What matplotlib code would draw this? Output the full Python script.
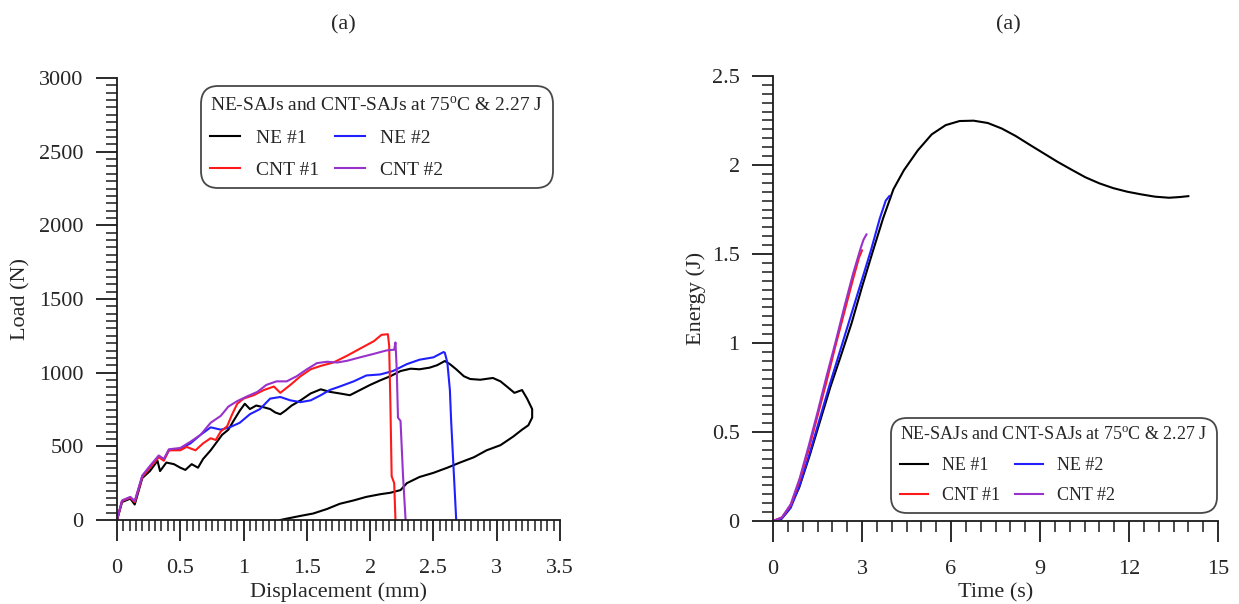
import matplotlib
matplotlib.use("Agg")
import matplotlib.pyplot as plt
from matplotlib.ticker import MultipleLocator

plt.rcParams['font.family'] = ['Liberation Serif', 'DejaVu Serif']
plt.rcParams['mathtext.fontset'] = 'custom'
plt.rcParams['mathtext.rm'] = 'Liberation Serif'

# load-displacement curves (mm, N)
ne1_disp = [0, 0.04, 0.105, 0.14, 0.2, 0.26, 0.32, 0.34, 0.39, 0.45, 0.5, 0.54, 0.59, 0.64, 0.68,
            0.74, 0.79, 0.83, 0.88, 0.92, 0.97, 1.01, 1.05, 1.1, 1.16, 1.21, 1.25, 1.29, 1.33, 1.38,
            1.45, 1.53, 1.61, 1.68, 1.76, 1.84, 1.92, 2.0, 2.08, 2.16, 2.24, 2.32, 2.39, 2.47, 2.53,
            2.59, 2.63, 2.68, 2.74, 2.79, 2.87, 2.97, 3.03, 3.08, 3.14, 3.2, 3.24, 3.28, 3.28, 3.25,
            3.2, 3.13, 3.03, 2.92, 2.82, 2.71, 2.61, 2.5, 2.39, 2.29, 2.24, 2.16, 2.08, 1.97, 1.87,
            1.76, 1.66, 1.55, 1.45, 1.34, 1.29]
ne1_load = [0, 122, 145, 105, 285, 332, 402, 332, 390, 379, 355, 340, 379, 355, 414,
            473, 531, 578, 613, 672, 742, 789, 753, 777, 765, 753, 730, 718, 742, 777,
            812, 859, 887, 870, 859, 847, 882, 917, 948, 976, 1011, 1027, 1023, 1034, 1051,
            1079, 1058, 1023, 976, 957, 952, 964, 941, 906, 863, 882, 824, 753, 695, 643,
            613, 566, 508, 473, 426, 390, 355, 320, 292, 250, 203, 185, 175, 157, 133,
            110, 75, 44, 28, 9, 0]

ne2_disp = [0, 0.04, 0.105, 0.14, 0.2, 0.26, 0.33, 0.37, 0.41, 0.5, 0.58, 0.66, 0.74, 0.82, 0.89,
            0.97, 1.05, 1.13, 1.21, 1.29, 1.37, 1.45, 1.53, 1.61, 1.68, 1.76, 1.87, 1.97, 2.08,
            2.18, 2.29, 2.39, 2.5, 2.58, 2.59, 2.61, 2.63, 2.64, 2.68]
ne2_load = [0, 129, 152, 122, 297, 355, 433, 410, 473, 484, 520, 578, 629, 613, 629,
            660, 718, 753, 824, 835, 812, 800, 812, 847, 882, 906, 941, 981, 988,
            1011, 1058, 1088, 1104, 1140, 1135, 1069, 882, 672, 0]

cnt1_disp = [0, 0.04, 0.105, 0.14, 0.2, 0.26, 0.33, 0.37, 0.41, 0.5, 0.55, 0.62, 0.68, 0.74, 0.78,
             0.82, 0.87, 0.91, 0.95, 1.0, 1.08, 1.16, 1.24, 1.29, 1.37, 1.45, 1.53, 1.61, 1.71,
             1.82, 1.92, 2.03, 2.09, 2.14, 2.15, 2.16, 2.17, 2.19, 2.2]
cnt1_load = [0, 129, 152, 122, 292, 355, 426, 402, 473, 473, 496, 473, 520, 555, 543,
             601, 636, 718, 789, 824, 847, 882, 906, 863, 917, 976, 1023, 1046, 1069,
             1116, 1163, 1214, 1257, 1261, 1186, 789, 297, 250, 0]

cnt2_disp = [0, 0.04, 0.105, 0.14, 0.2, 0.26, 0.33, 0.37, 0.41, 0.5, 0.58, 0.66, 0.74, 0.82, 0.88,
             0.95, 1.03, 1.11, 1.18, 1.26, 1.34, 1.42, 1.5, 1.58, 1.66, 1.74, 1.82, 1.92, 2.03,
             2.13, 2.19, 2.2, 2.21, 2.22, 2.24, 2.26, 2.28]
cnt2_load = [0, 133, 157, 129, 302, 367, 438, 414, 480, 489, 531, 578, 660, 707, 770,
             807, 840, 870, 917, 941, 941, 976, 1023, 1065, 1074, 1069, 1081, 1104, 1128,
             1151, 1156, 1205, 1023, 695, 672, 297, 0]

# energy-time curves (s, J)
ne1_time = [0, 0.29, 0.53, 0.88, 1.24, 1.59, 1.94, 2.29, 2.65, 3.0, 3.35, 3.71, 4.06, 4.41, 4.88,
            5.35, 5.82, 6.29, 6.76, 7.24, 7.71, 8.18, 8.65, 9.12, 9.59, 10.06, 10.53, 11.0, 11.47,
            11.94, 12.41, 12.88, 13.35, 13.71, 14.0]
ne1_energy = [0, 0.013, 0.062, 0.187, 0.37, 0.563, 0.756, 0.929, 1.112, 1.315, 1.507, 1.70, 1.864,
              1.97, 2.082, 2.172, 2.224, 2.247, 2.249, 2.236, 2.205, 2.163, 2.114, 2.066, 2.018,
              1.974, 1.931, 1.897, 1.870, 1.850, 1.835, 1.822, 1.816, 1.820, 1.825]

ne2_time = [0, 0.3, 0.6, 0.9, 1.2, 1.55, 1.9, 2.25, 2.6, 2.95, 3.3, 3.6, 3.8, 3.92]
ne2_energy = [0, 0.015, 0.075, 0.2, 0.36, 0.56, 0.76, 0.95, 1.14, 1.33, 1.52, 1.70, 1.80, 1.825]

cnt1_time = [0, 0.3, 0.6, 0.9, 1.2, 1.5, 1.8, 2.1, 2.4, 2.7, 2.9, 3.0]
cnt1_energy = [0, 0.02, 0.09, 0.23, 0.4, 0.59, 0.78, 0.98, 1.17, 1.36, 1.48, 1.52]

cnt2_time = [0, 0.3, 0.6, 0.9, 1.2, 1.5, 1.8, 2.1, 2.4, 2.7, 2.95, 3.05, 3.15]
cnt2_energy = [0, 0.02, 0.095, 0.24, 0.42, 0.61, 0.81, 1.0, 1.2, 1.39, 1.53, 1.58, 1.61]

labels = ['NE #1', 'NE #2', 'CNT #1', 'CNT #2']
colors = ['#000000', '#1f1fff', '#ff1a1a', '#9932cc']
legend_title = r'NE-SAJs and CNT-SAJs at 75$^{\mathrm{o}}$C & 2.27 J'
text_color = '#262626'


def style_axes(ax):
    for side in ['top', 'right']:
        ax.spines[side].set_visible(False)
    for side in ['left', 'bottom']:
        ax.spines[side].set_linewidth(1.3)
        ax.spines[side].set_color('#1a1a1a')
    ax.tick_params(which='major', direction='out', length=15, width=1.3, color='#1a1a1a',
                   labelsize=16, labelcolor=text_color)
    ax.tick_params(which='minor', direction='out', length=8, width=1.1, color='#1a1a1a')
    ax.tick_params(axis='x', which='major', pad=13)
    ax.tick_params(axis='y', which='major', pad=9)


def add_legend(ax, lines, fontsize, loc, anchor):
    order = [0, 2, 1, 3]
    leg = ax.legend([lines[i] for i in order], [labels[i] for i in order], ncol=2,
                    title=legend_title, title_fontsize=fontsize, fontsize=fontsize,
                    loc=loc, bbox_to_anchor=anchor, frameon=True, fancybox=True,
                    edgecolor='#1a1a1a', handlelength=1.55, handletextpad=0.8,
                    columnspacing=0.8, labelspacing=0.72, borderpad=0.2,
                    alignment='left')
    leg.get_frame().set_linewidth(1.3)
    leg.get_frame().set_boxstyle('round', pad=0.3, rounding_size=0.9)
    leg.get_title().set_color(text_color)
    for t in leg.get_texts():
        t.set_color(text_color)
    return leg


fig = plt.figure(figsize=(12.39, 6.04), dpi=100)
ax1 = fig.add_axes([117 / 1239, 84 / 604, 443 / 1239, 442 / 604])
ax2 = fig.add_axes([773 / 1239, 83 / 604, 445 / 1239, 445 / 604])

# left: load vs displacement
lines1 = []
for xs, ys, c in zip([ne1_disp, ne2_disp, cnt1_disp, cnt2_disp],
                     [ne1_load, ne2_load, cnt1_load, cnt2_load], colors):
    ln, = ax1.plot(xs, ys, color=c, lw=1.5)
    lines1.append(ln)
ax1.set_xlim(0, 3.5)
ax1.set_ylim(0, 3000)
ax1.xaxis.set_major_locator(MultipleLocator(0.5))
ax1.xaxis.set_minor_locator(MultipleLocator(0.05))
ax1.yaxis.set_major_locator(MultipleLocator(500))
ax1.yaxis.set_minor_locator(MultipleLocator(50))
ax1.xaxis.set_major_formatter(plt.FuncFormatter(lambda v, p: f'{v:g}'))
style_axes(ax1)
ax1.set_xlabel('Displacement (mm)', fontsize=16, color=text_color)
ax1.set_ylabel('Load (N)', fontsize=16, color=text_color)
ax1.xaxis.set_label_coords(0.5, -0.14)
ax1.yaxis.set_label_coords(-0.195, 0.5)
add_legend(ax1, lines1, 14, 'upper left', (0.18, 0.99))

# right: energy vs time
lines2 = []
for xs, ys, c in zip([ne1_time, ne2_time, cnt1_time, cnt2_time],
                     [ne1_energy, ne2_energy, cnt1_energy, cnt2_energy], colors):
    ln, = ax2.plot(xs, ys, color=c, lw=1.5)
    lines2.append(ln)
ax2.set_xlim(0, 15)
ax2.set_ylim(0, 2.5)
ax2.xaxis.set_major_locator(MultipleLocator(3))
ax2.xaxis.set_minor_locator(MultipleLocator(0.5))
ax2.yaxis.set_major_locator(MultipleLocator(0.5))
ax2.yaxis.set_minor_locator(MultipleLocator(0.05))
ax2.yaxis.set_major_formatter(plt.FuncFormatter(lambda v, p: f'{v:g}'))
style_axes(ax2)
ax2.set_xlabel('Time (s)', fontsize=16, color=text_color)
ax2.set_ylabel('Energy (J)', fontsize=16, color=text_color)
ax2.xaxis.set_label_coords(0.5, -0.14)
ax2.yaxis.set_label_coords(-0.15, 0.5)
add_legend(ax2, lines2, 13, 'lower right', (1.005, 0.01))

fig.text(343 / 1239, 1 - 25 / 604, '(a)', fontsize=16, ha='center', va='center', color=text_color)
fig.text(1008 / 1239, 1 - 25 / 604, '(a)', fontsize=16, ha='center', va='center', color=text_color)

fig.savefig('out.png', dpi=100, facecolor='white')
